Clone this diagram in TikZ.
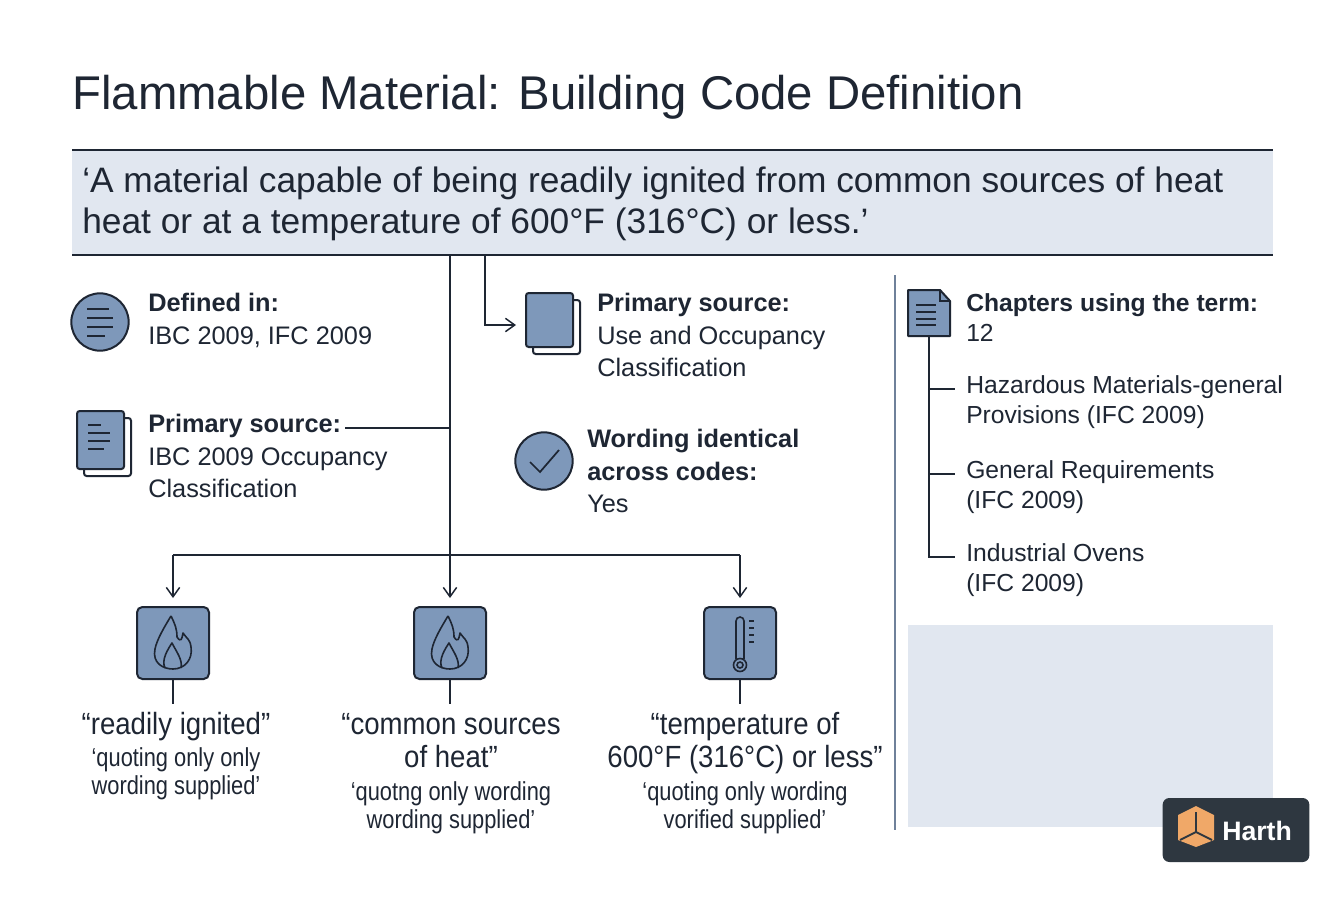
\documentclass[tikz,border=0pt]{standalone}
\usepackage{fontspec}
\setmainfont{Liberation Sans}
\usepackage{graphicx}
\usetikzlibrary{arrows.meta,positioning,calc}
\definecolor{ink}{HTML}{1E2633}
\definecolor{iconfill}{HTML}{7E98BA}
\definecolor{band}{HTML}{E1E7F0}
\definecolor{divider}{HTML}{6F819A}
\definecolor{logobg}{HTML}{2E3740}
\definecolor{logoor}{HTML}{F0A868}
\newcommand{\cond}[2][.84]{\scalebox{#1}[1]{\begin{tabular}{@{}c@{}}#2\end{tabular}}}
\tikzset{
  wire/.style={draw=ink, line width=1.1pt},
  arr/.style={wire, -{Straight Barb[length=7pt,width=10pt]}},
  ico/.style={draw=ink, fill=iconfill, line width=1.5pt},
  head/.style={anchor=north west, align=left, font=\fontsize{19}{24.5}\selectfont, inner sep=0pt, text=ink},
  term/.style={anchor=north, align=center, inner sep=0pt, text=ink, font=\fontsize{23}{25}\selectfont},
  box/.style={ico, rounded corners=4pt, minimum width=54pt, minimum height=54pt},
}
\newcommand{\flame}[1]{%
  \draw[ink, line width=1.2pt, line join=round] ($(#1)+(-2,-27)$) .. controls +(-6,10) and +(2,-10) .. ($(#1)+(-18,6)$) .. controls +(-3,14) and +(-10,0) .. ($(#1)+(0,26)$) .. controls +(12,0) and +(2,12) .. ($(#1)+(18,4)$) .. controls +(-1,-8) and +(4,6) .. ($(#1)+(10,-10)$) .. controls +(-1,6) and +(4,6) .. ($(#1)+(4,-6)$) .. controls +(0,-8) and +(4,8) .. ($(#1)+(-2,-27)$);
  \draw[ink, line width=1.2pt, line join=round] ($(#1)+(-8,25)$) .. controls +(-4,-8) and +(-4,6) .. ($(#1)+(-1,0)$) .. controls +(4,8) and +(2,-8) .. ($(#1)+(8,25)$);}
\begin{document}
\begin{tikzpicture}[x=0.75pt,y=-0.75pt]
\useasboundingbox[fill=white] (0,0) rectangle (1344,896);
% title
\node[anchor=west, inner sep=0pt, text=ink, font=\fontsize{35.5}{40}\selectfont] (title) at (72,97) {Flammable Material: Building Code Definition};
% definition band
\fill[band] (72,150) rectangle (1273,255);
\draw[ink, line width=1.3pt] (72,150) -- (1273,150);
\draw[ink, line width=1.3pt] (72,255) -- (1273,255);
\node[anchor=west, align=left, inner sep=0pt, text=ink, font=\fontsize{26.5}{31}\selectfont] (quote) at (82,204)
  {‘A material capable of being readily ignited from common sources of heat\\heat or at a temperature of 600°F (316°C) or less.’};
% left column
\coordinate (top) at (450,255);
\coordinate (split) at (450,555);
\draw[ico] (100,322) circle (21.5pt);
\foreach \y/\w in {309/22,318/26,327/26,336/18}
  \draw[ink, line width=1.2pt] (87,\y) -- ++(\w,0);
\node[head] (defd) at (148,293) {\textbf{Defined in:}\\IBC 2009, IFC 2009};
\draw[ico, fill=white, rounded corners=2pt] (84,418) rectangle (131,476);
\draw[ico, rounded corners=2pt] (77,411) rectangle (124,469);
\foreach \y/\w in {425/13,433/22,441/22,449/16}
  \draw[ink, line width=1.2pt] (88,\y) -- ++(\w,0);
\node[head] (prim) at (148,414) {\textbf{Primary source:}\\IBC 2009 Occupancy\\Classification};
\coordinate (primend) at (345,428);
\draw[wire] (primend) -- (450,428);
% middle column
\draw[ico, fill=white, rounded corners=2pt] (533,300) rectangle (580,354);
\draw[ico, rounded corners=2pt] (526,293) rectangle (573,347);
\node[head] (use) at (597,293) {\textbf{Primary source:}\\Use and Occupancy\\Classification};
\draw[arr] (485,255) |- (516,325);
\draw[ico] (544,461) circle (21.5pt);
\draw[ink, line width=1.3pt] (530,462) -- (540,472) -- (559,450);
\node[head] (same) at (587,429) {\textbf{Wording identical}\\\textbf{across codes:}\\Yes};
% trunk and three branches
\draw[wire] (top) -- (split);
\draw[wire] (173,555) -- (740,555);
\foreach \x/\n in {173/ig,450/src,740/tmp} {
  \draw[arr] (\x,555) -- (\x,598);
  \node[box] (\n) at (\x,643) {};
  \draw[wire] (\n.south) -- ++(0,24);
}
\flame{ig}
\flame{src}
% thermometer
\draw[ink, line width=1.2pt] ($(tmp)+(-4,16)$) -- ($(tmp)+(-4,-22)$) arc (180:360:4) -- ($(tmp)+(4,16)$);
\draw[ink, line width=1.2pt] ($(tmp)+(0,22)$) circle (6.5);
\draw[ink, line width=1.2pt] ($(tmp)+(0,22)$) circle (3);
\foreach \d in {-22,-15,-8,-1}
  \draw[ink, line width=1.2pt] ($(tmp)+(9,\d)$) -- ++(5,0);
\node[term] (t1) at (176,711) {\cond[.9]{“readily ignited”}\\[1pt]{\fontsize{19.5}{21}\selectfont\cond{‘quoting only only\\wording supplied’}}};
\node[term] (t2) at (451,711) {\cond[.9]{“common sources\\of heat”}\\[1pt]{\fontsize{19.5}{21}\selectfont\cond{‘quotng only wording\\wording supplied’}}};
\node[term] (t3) at (745,711) {\cond[.9]{“temperature of\\600°F (316°C) or less”}\\[1pt]{\fontsize{19.5}{21}\selectfont\cond{‘quoting only wording\\vorified supplied’}}};
% right column
\draw[divider, line width=1.3pt] (895,275) -- (895,830);
\draw[ico, line join=round] (908,290) -- (940,290) -- (950,301) -- (950,336) -- (908,336) -- cycle;
\draw[ink, line width=1.2pt] (940,290) -- (940,301) -- (950,301);
\foreach \y in {305,312,319,325}
  \draw[ink, line width=1.2pt] (916,\y) -- ++(20,0);
\node[head, font=\fontsize{18.5}{23}\selectfont] (chap) at (966,293) {\textbf{Chapters using the term:}\\12};
\node[head, font=\fontsize{18.5}{23}\selectfont] (c1) at (966,375) {Hazardous Materials-general\\Provisions (IFC 2009)};
\node[head, font=\fontsize{18.5}{23}\selectfont] (c2) at (966,460) {General Requirements\\(IFC 2009)};
\node[head, font=\fontsize{18.5}{23}\selectfont] (c3) at (966,543) {Industrial Ovens\\(IFC 2009)};
\draw[wire] (929,336) -- (929,557) -- (955,557);
\draw[wire] (929,389) -- (955,389);
\draw[wire] (929,474) -- (955,474);
\fill[band] (908,625) rectangle (1273,827);
% logo
\node[fill=logobg, rounded corners=5pt, minimum width=110pt, minimum height=48pt] (logo) at (1236,830) {};
\fill[logoor] (1178,815) -- (1196,806) -- (1214,815) -- (1214,840) -- (1196,847) -- (1178,840) -- cycle;
\draw[logobg, line width=1.4pt] (1196,812) -- (1196,832) -- (1180,840);
\draw[logobg, line width=1.4pt] (1196,832) -- (1212,840);
\node[anchor=west, text=white, font=\bfseries\fontsize{20}{22}\selectfont, inner sep=0pt] (harth) at (1222,831) {Harth};
\end{tikzpicture}
\end{document}
